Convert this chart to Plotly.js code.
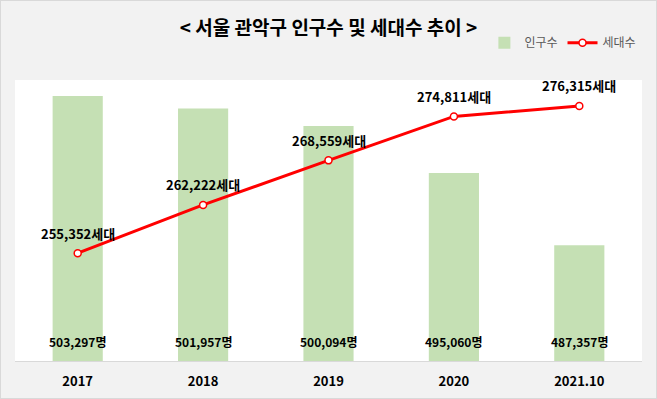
<!DOCTYPE html>
<html><head><meta charset="utf-8">
<script src="https://cdn.plot.ly/plotly-3.0.1.min.js"></script>
<style>
html,body{margin:0;padding:0;background:#f2f2f2;}
#chart{width:655px;height:397px;border:1px solid #d9d9d9;}
</style></head>
<body><div id="chart"></div>
<script>
const categories = ['2017','2018','2019','2020','2021.10'];
const population = [503297, 501957, 500094, 495060, 487357];
const households = [255352, 262222, 268559, 274811, 276315];

const fmt = v => v.toLocaleString('en-US');
const FONT = '"Noto Sans CJK KR", "Malgun Gothic", sans-serif';

const bar = {
  type:'bar', name:'인구수', x:categories, y:population,
  marker:{color:'#c5e0b4'}, width:0.4, yaxis:'y', hoverinfo:'skip'
};
const line = {
  type:'scatter', mode:'lines+markers', name:'세대수', x:categories, y:households,
  yaxis:'y2', line:{color:'#ff0000', width:3},
  marker:{symbol:'circle', size:7, color:'#ffffff', line:{color:'#ff0000', width:1.5}},
  hoverinfo:'skip'
};

const annotations = [];
categories.forEach((c,i)=>{
  annotations.push({x:i, y:475000, xref:'x', yref:'y', text:fmt(population[i])+'명',
    showarrow:false, yanchor:'middle', yshift:20,
    font:{family:FONT, size:12, color:'#000000', weight:700}});
  annotations.push({x:i, y:households[i], xref:'x', yref:'y2', text:fmt(households[i])+'세대',
    showarrow:false, yanchor:'middle', yshift:20,
    font:{family:FONT, size:13, color:'#000000', weight:700}});
});

const layout = {
  width:655, height:397,
  paper_bgcolor:'#f2f2f2', plot_bgcolor:'#ffffff',
  margin:{l:14, r:14, t:79, b:37, autoexpand:false},
  title:{text:'< 서울 관악구 인구수 및 세대수 추이 >', x:0.5, xanchor:'center', y:0.93, yanchor:'middle',
    xref:'paper', font:{family:FONT, size:19, color:'#000000', weight:700}},
  showlegend:true,
  legend:{orientation:'h', xref:'container', yref:'container', x:0.738, y:0.895, xanchor:'left', yanchor:'middle',
    bgcolor:'rgba(0,0,0,0)', font:{family:FONT, size:12, color:'#595959'},
    itemwidth:30, tracegroupgap:0},
  xaxis:{type:'category', range:[-0.5, 4.5], showgrid:false, zeroline:false, showline:true, linecolor:'#d9d9d9', linewidth:1,
    ticks:'', tickfont:{family:FONT, size:13, color:'#000000', weight:700}, ticklabelstandoff:8},
  yaxis:{range:[475000,505000], visible:false, showgrid:false, zeroline:false},
  yaxis2:{range:[240000,280000], overlaying:'y', side:'right', visible:false, showgrid:false, zeroline:false},
  annotations:annotations
};

Plotly.newPlot('chart', [bar, line], layout, {displayModeBar:false, staticPlot:true});
</script></body></html>
